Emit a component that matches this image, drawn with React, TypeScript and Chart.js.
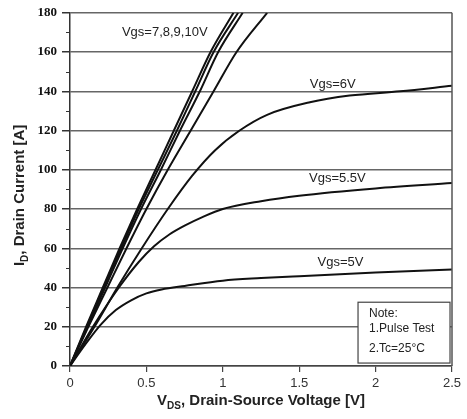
import React, { useEffect, useRef } from 'react';
import { Chart, registerables } from 'chart.js';

Chart.register(...registerables);

// ---- data ----
const xTickStep = 0.5;
const yTickStep = 20;
const xMax = 2.5;
const yMax = 180;

const vds5 = [0, 0.1, 0.2, 0.3, 0.4, 0.5, 0.6, 0.75, 1.0, 1.25, 1.5, 2.0, 2.5];
const id5 = [0, 11, 21, 28.5, 33.5, 37, 39, 40.8, 43.5, 44.8, 45.8, 47.6, 49.2];

const vds55 = [0, 0.15, 0.32, 0.45, 0.55, 0.65, 0.75, 0.87, 1.0, 1.25, 1.5, 2.0, 2.5];
const id55 = [0, 20, 40, 53, 61, 67, 71.5, 76, 80, 84, 86.8, 90.5, 93.2];

const vds6 = [0, 0.16, 0.31, 0.47, 0.64, 0.8, 0.95, 1.11, 1.29, 1.57, 1.83, 2.16, 2.5];
const id6 = [0, 20, 40, 60, 80, 97, 110, 120, 128, 134.4, 137.8, 140, 142.8];

const vds7 = [0, 0.12, 0.245, 0.37, 0.5, 0.64, 0.79, 0.94, 1.09, 1.29];
const id7 = [0, 20, 40, 60, 80, 100, 120, 140, 160, 180];

const vds8 = [0, 0.115, 0.23, 0.345, 0.465, 0.595, 0.72, 0.85, 0.97, 1.13];
const id8 = [0, 20, 40, 60, 80, 100, 120, 140, 160, 180];

const vds9 = [0, 0.11, 0.22, 0.335, 0.45, 0.575, 0.7, 0.82, 0.94, 1.1];
const id9 = [0, 20, 40, 60, 80, 100, 120, 140, 160, 180];

const vds10 = [0, 0.105, 0.215, 0.325, 0.44, 0.56, 0.68, 0.8, 0.92, 1.07];
const id10 = [0, 20, 40, 60, 80, 100, 120, 140, 160, 180];

const curveLabels = ['Vgs=7,8,9,10V', 'Vgs=6V', 'Vgs=5.5V', 'Vgs=5V'];
const curveLabelVds = [0.62, 1.72, 1.75, 1.77];
const curveLabelId = [169.8, 143.6, 95.8, 52.6];

const noteLines = ['Note:', '1.Pulse Test', '2.Tc=25°C'];
const noteBoxVds = [1.885, 2.487];
const noteBoxId = [1.5, 32.5];

const xTitleMain = 'V';
const xTitleSub = 'DS';
const xTitleRest = ', Drain-Source Voltage [V]';
const yTitleMain = 'I';
const yTitleSub = 'D';
const yTitleRest = ', Drain Current [A]';

const SANS = '"Liberation Sans", Arial, Helvetica, sans-serif';
const SERIF = '"Liberation Serif", "Times New Roman", serif';

function zip(xs: number[], ys: number[]) {
  return xs.map((v, i) => ({ x: v, y: ys[i] }));
}

function drawSubTitle(
  ctx: CanvasRenderingContext2D,
  main: string,
  sub: string,
  rest: string,
  cx: number,
  cy: number,
  size: number,
  subSize: number
) {
  const mainFont = `bold ${size}px ${SANS}`;
  const subFont = `bold ${subSize}px ${SANS}`;
  ctx.font = mainFont;
  const w1 = ctx.measureText(main).width;
  const w3 = ctx.measureText(rest).width;
  ctx.font = subFont;
  const w2 = ctx.measureText(sub).width;
  const total = w1 + w2 + w3;
  let x0 = cx - total / 2;
  ctx.textAlign = 'left';
  ctx.textBaseline = 'alphabetic';
  ctx.font = mainFont;
  ctx.fillText(main, x0, cy);
  x0 += w1;
  ctx.font = subFont;
  ctx.fillText(sub, x0, cy + size * 0.25);
  x0 += w2;
  ctx.font = mainFont;
  ctx.fillText(rest, x0, cy);
}

const overlayPlugin = {
  id: 'overlay',
  afterDraw(chart: any) {
    const { ctx, chartArea: a, scales } = chart;
    const x = scales.x;
    const y = scales.y;
    ctx.save();

    // right border
    ctx.strokeStyle = '#555';
    ctx.lineWidth = 1.5;
    ctx.beginPath();
    ctx.moveTo(a.right, a.top);
    ctx.lineTo(a.right, a.bottom);
    ctx.stroke();

    // minor y ticks
    ctx.strokeStyle = '#333';
    ctx.lineWidth = 1;
    for (let v = yTickStep / 2; v < yMax; v += yTickStep) {
      const py = Math.round(y.getPixelForValue(v)) + 0.5;
      ctx.beginPath();
      ctx.moveTo(a.left - 4, py);
      ctx.lineTo(a.left, py);
      ctx.stroke();
    }

    // curve labels
    ctx.fillStyle = '#222';
    ctx.font = `13px ${SANS}`;
    ctx.textAlign = 'center';
    ctx.textBaseline = 'middle';
    curveLabels.forEach((t, i) => {
      ctx.fillText(t, x.getPixelForValue(curveLabelVds[i]), y.getPixelForValue(curveLabelId[i]));
    });

    // note box
    const bx1 = x.getPixelForValue(noteBoxVds[0]);
    const bx2 = x.getPixelForValue(noteBoxVds[1]);
    const by1 = y.getPixelForValue(noteBoxId[1]);
    const by2 = y.getPixelForValue(noteBoxId[0]);
    ctx.fillStyle = '#fff';
    ctx.fillRect(bx1, by1, bx2 - bx1, by2 - by1);
    ctx.strokeStyle = '#444';
    ctx.lineWidth = 1.2;
    ctx.strokeRect(bx1, by1, bx2 - bx1, by2 - by1);
    ctx.fillStyle = '#222';
    ctx.font = `12px ${SANS}`;
    ctx.textAlign = 'left';
    ctx.textBaseline = 'middle';
    const lineYs = [by1 + 11, by1 + 26, by1 + 46];
    noteLines.forEach((t, i) => ctx.fillText(t, bx1 + 11, lineYs[i]));

    // axis titles
    ctx.fillStyle = '#222';
    drawSubTitle(ctx, xTitleMain, xTitleSub, xTitleRest, (a.left + a.right) / 2, 405, 15, 10);
    ctx.save();
    ctx.translate(24, (a.top + a.bottom) / 2 + 6);
    ctx.rotate(-Math.PI / 2);
    drawSubTitle(ctx, yTitleMain, yTitleSub, yTitleRest, 0, 0, 15, 10);
    ctx.restore();

    ctx.restore();
  },
};

export default function App() {
  const canvasRef = useRef<HTMLCanvasElement | null>(null);

  useEffect(() => {
    if (!canvasRef.current) return;
    const seriesX = [vds10, vds9, vds8, vds7, vds6, vds55, vds5];
    const seriesY = [id10, id9, id8, id7, id6, id55, id5];
    const names = ['Vgs=10V', 'Vgs=9V', 'Vgs=8V', 'Vgs=7V', 'Vgs=6V', 'Vgs=5.5V', 'Vgs=5V'];
    const chart = new Chart(canvasRef.current, {
      type: 'line',
      data: {
        datasets: seriesX.map((xs, i) => ({
          label: names[i],
          data: zip(xs, seriesY[i]),
          borderColor: '#111',
          borderWidth: 2,
          pointRadius: 0,
          fill: false,
          cubicInterpolationMode: 'monotone' as const,
        })),
      },
      options: {
        responsive: false,
        animation: false,
        devicePixelRatio: 1,
        layout: { padding: { top: 12, right: 15, left: 0, bottom: 0 } },
        plugins: {
          legend: { display: false },
          tooltip: { enabled: false },
        },
        scales: {
          x: {
            type: 'linear',
            min: 0,
            max: xMax,
            ticks: {
              stepSize: xTickStep,
              color: '#333',
              font: { family: SANS, size: 13 },
              padding: 4,
              maxRotation: 0,
              callback: (v: any) => String(Number(v)),
            },
            grid: {
              drawOnChartArea: false,
              tickLength: 6,
              tickColor: '#444',
              lineWidth: 1.2,
            },
            border: { color: '#444', width: 1.5 },
            afterFit: (s: any) => {
              s.height = 53;
            },
          },
          y: {
            type: 'linear',
            min: 0,
            max: yMax,
            ticks: {
              stepSize: yTickStep,
              color: '#111',
              font: { family: SERIF, size: 13, weight: 'bold' },
              padding: 5,
            },
            grid: {
              color: '#666',
              lineWidth: 1.5,
              tickLength: 8,
              tickColor: '#333',
            },
            border: { color: '#333', width: 1.5 },
            afterFit: (s: any) => {
              s.width = 70;
            },
          },
        },
      },
      plugins: [overlayPlugin],
    } as any);
    return () => chart.destroy();
  }, []);

  return (
    <div style={{ position: 'absolute', left: 0, top: 0, width: 467, height: 419, background: '#fff' }}>
      <canvas ref={canvasRef} width={467} height={419} />
    </div>
  );
}
